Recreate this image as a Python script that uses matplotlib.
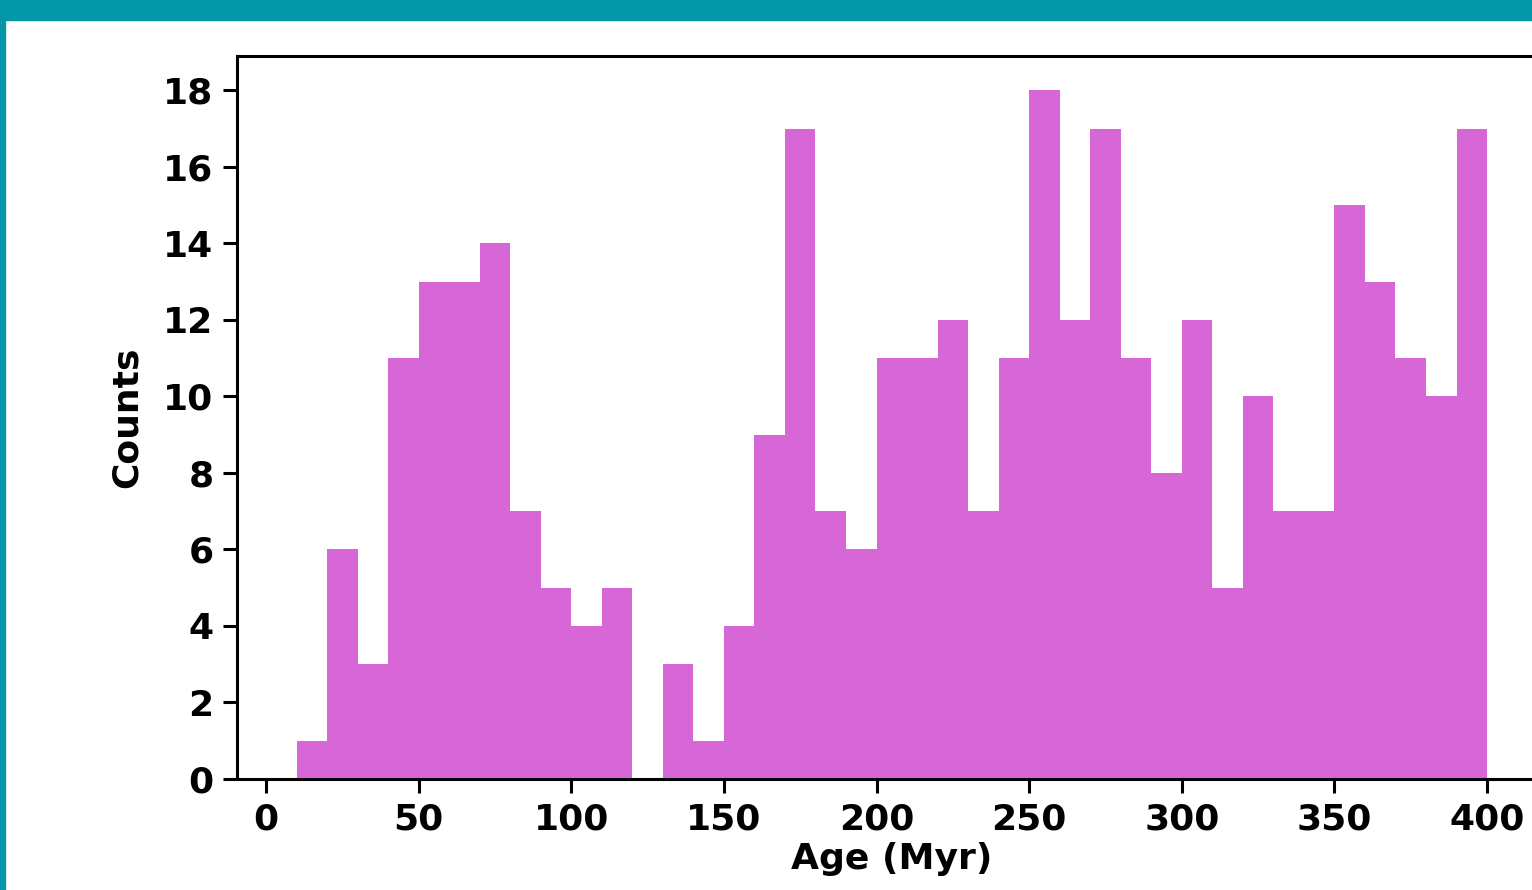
import matplotlib.pyplot as plt
import numpy as np
from matplotlib.patches import Rectangle

# histogram of ages, 10 Myr bins starting at 10
edges = np.arange(10, 410, 10)
counts = [1, 6, 3, 11, 13, 13, 14, 7, 5, 4, 5, 0, 3, 1, 4, 9, 17, 7, 6,
          11, 11, 12, 7, 11, 18, 12, 17, 11, 8, 12, 5, 10, 7, 7, 15, 13, 11, 10, 17]
xticks = [0, 50, 100, 150, 200, 250, 300, 350, 400]
yticks = [0, 2, 4, 6, 8, 10, 12, 14, 16, 18]

plt.rcParams['font.family'] = 'DejaVu Sans'
plt.rcParams['font.weight'] = 'bold'

fig = plt.figure(figsize=(15.32, 8.9), dpi=100)
fig.patch.set_facecolor('white')
teal = '#0397A8'
fig.patches.append(Rectangle((0, 1 - 20/890), 1, 20/890, transform=fig.transFigure, color=teal, zorder=10))
fig.patches.append(Rectangle((0, 0), 5/1532, 1, transform=fig.transFigure, color=teal, zorder=10))

ax = fig.add_axes([237/1532, 1 - 779/890, 1309.6/1532, 723/890])
ax.hist(edges[:-1], bins=edges, weights=counts, color='#D766D6')
ax.set_xlim(-9.5, 419.5)
ax.set_ylim(0, 18.9)
ax.set_xticks(xticks)
ax.set_yticks(yticks)
ax.tick_params(labelsize=26, length=10, width=2.2, pad=7)
for s in ax.spines.values():
    s.set_linewidth(2.2)
ax.set_xlabel('Age (Myr)', fontsize=26, fontweight='bold', labelpad=4)
ax.set_ylabel('Counts', fontsize=26, fontweight='bold', labelpad=14)

plt.savefig('out.png', dpi=100)
